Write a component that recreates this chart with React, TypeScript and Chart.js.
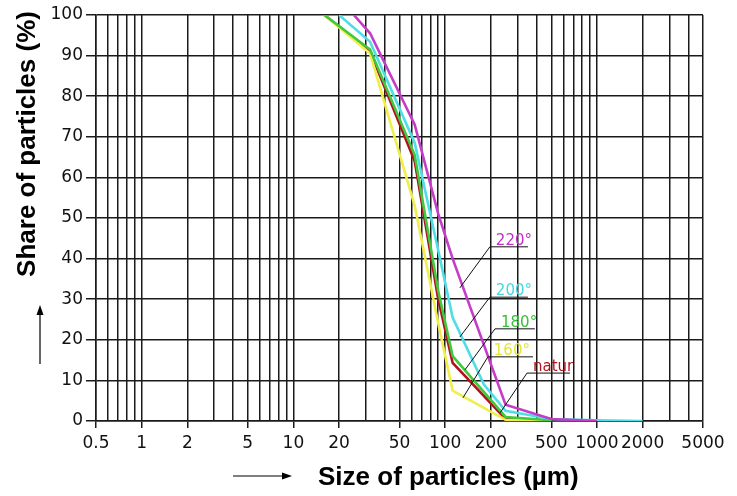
import React, { useEffect, useRef } from 'react';
import { Chart, registerables } from 'chart.js';
Chart.register(...registerables);

// particle sizes (µm) at which values are read
const sizes = [16, 20, 25, 32, 63, 90, 112, 180, 250, 500, 1000, 2000];
// share of particles (%) per series (null = no point)
const natur = [100, null, null, 91, 64, 30, 14.3, null, 0.5, 0, null, null];
const deg160 = [100, null, null, 90.5, 53, 24, 7.5, null, 0.3, 0, null, null];
const deg180 = [100, null, null, 91.5, 65.5, 32, 16, null, 1, 0.2, null, null];
const deg200 = [null, 100, null, 93.4, 68.5, 42, 25.5, 9, 2.5, 0.5, 0.2, 0];
const deg220 = [null, null, 100, 95.5, 73, 51, 40, null, 4, 0.5, 0, null];

const seriesNames = ['220°', '200°', '180°', '160°', 'natur'];
const seriesValues = [deg220, deg200, deg180, deg160, natur];
const seriesColors = ['#c43cc8', '#4fdde6', '#3ec93e', '#f0ee4a', '#b3121b'];
const labelColors = ['#c030c4', '#45d6e0', '#36c236', '#e6e43a', '#b0141c'];

// x-axis labelled ticks and grid decades
const xTickLabels = [0.5, 1, 2, 5, 10, 20, 50, 100, 200, 500, 1000, 2000, 5000];
const xDecades = [0.1, 1, 10, 100, 1000];
const xMultiples = [1, 2, 3, 4, 5, 6, 7, 8, 9];
const xMin = 0.5;
const xMax = 5000;
const yTicksMax = 100;
const yStep = 10;

// annotation labels: underline start/end (size), level (%), leader anchor on curve
const labelLineStart = [197, 197, 213, 191, 346];
const labelLineEnd = [351, 351, 390, 379, 665];
const labelLevel = [42.9, 30.5, 22.7, 15.8, 11.8];
const leaderSize = [125, 125, 135, 131, 230];
const leaderPct = [32.8, 20.7, 12.6, 5.7, 2];

const xTitle = 'Size of particles (µm)';
const yTitle = 'Share of particles (%)';

const gridValues: number[] = [];
xDecades.forEach((d) =>
  xMultiples.forEach((m) => {
    const v = Number((m * d).toPrecision(6));
    if (v >= xMin && v <= xMax) gridValues.push(v);
  })
);
const isLabelled = (v: number) => xTickLabels.some((t) => Math.abs(t - v) / t < 1e-6);

const overlay = {
  id: 'overlay',
  afterDatasetsDraw(chart: any) {
    const { ctx, scales } = chart;
    const xs = scales.x;
    const ys = scales.y;
    ctx.save();
    seriesNames.forEach((name, i) => {
      const x0 = xs.getPixelForValue(labelLineStart[i]);
      const x1 = xs.getPixelForValue(labelLineEnd[i]);
      const yl = ys.getPixelForValue(labelLevel[i]);
      const xa = xs.getPixelForValue(leaderSize[i]);
      const ya = ys.getPixelForValue(leaderPct[i]);
      ctx.strokeStyle = '#111';
      ctx.lineWidth = 1;
      ctx.beginPath();
      ctx.moveTo(x1, yl);
      ctx.lineTo(x0, yl);
      ctx.lineTo(xa, ya);
      ctx.stroke();
      ctx.fillStyle = labelColors[i];
      ctx.font = '15px "DejaVu Sans"';
      ctx.textAlign = 'left';
      ctx.textBaseline = 'alphabetic';
      ctx.fillText(name, x0 + 6, yl - 2);
    });
    ctx.restore();
  },
  afterDraw(chart: any) {
    const { ctx, chartArea } = chart;
    ctx.save();
    ctx.fillStyle = '#000';
    ctx.strokeStyle = '#000';
    ctx.font = 'bold 26px "Liberation Sans", Arial, sans-serif';
    ctx.textAlign = 'left';
    ctx.textBaseline = 'alphabetic';
    const xtx = 318;
    const xty = chartArea.bottom + 64;
    ctx.fillText(xTitle, xtx, xty);
    ctx.lineWidth = 1.2;
    ctx.beginPath();
    ctx.moveTo(233, xty - 9);
    ctx.lineTo(284, xty - 9);
    ctx.stroke();
    ctx.beginPath();
    ctx.moveTo(292, xty - 9);
    ctx.lineTo(282, xty - 12.5);
    ctx.lineTo(282, xty - 5.5);
    ctx.closePath();
    ctx.fill();
    ctx.save();
    ctx.translate(35, 144);
    ctx.rotate(-Math.PI / 2);
    ctx.textAlign = 'center';
    ctx.fillText(yTitle, 0, 0);
    ctx.restore();
    ctx.beginPath();
    ctx.moveTo(40, 364);
    ctx.lineTo(40, 313);
    ctx.stroke();
    ctx.beginPath();
    ctx.moveTo(40, 305);
    ctx.lineTo(36.5, 315);
    ctx.lineTo(43.5, 315);
    ctx.closePath();
    ctx.fill();
    ctx.restore();
  },
};

export default function App() {
  const ref = useRef<HTMLCanvasElement | null>(null);
  useEffect(() => {
    if (!ref.current) return;
    const datasets = seriesNames.map((name, i) => ({
      label: name,
      data: sizes
        .map((s, j) => (seriesValues[i][j] == null ? null : { x: s, y: seriesValues[i][j] }))
        .filter((p) => p !== null),
      borderColor: seriesColors[i],
      backgroundColor: seriesColors[i],
      borderWidth: 2.6,
      pointRadius: 0,
      tension: 0,
      fill: false,
    }));
    const chart = new Chart(ref.current, {
      type: 'line',
      data: { datasets: datasets as any },
      plugins: [overlay],
      options: {
        animation: false,
        responsive: false,
        layout: { padding: { top: 15, right: 34, left: 0, bottom: 0 } },
        plugins: { legend: { display: false }, tooltip: { enabled: false } },
        scales: {
          x: {
            type: 'logarithmic',
            min: xMin,
            max: xMax,
            afterBuildTicks: (s: any) => {
              s.ticks = gridValues.map((v) => ({ value: v }));
            },
            afterFit: (s: any) => {
              s.height = 75;
            },
            ticks: {
              autoSkip: false,
              maxRotation: 0,
              minRotation: 0,
              padding: 5,
              color: '#111',
              font: { family: 'DejaVu Sans', size: 17 },
              callback: (v: any) => {
                const n = Number(v);
                return isLabelled(n) ? String(n) : '';
              },
            },
            grid: {
              color: '#1a1a1a',
              lineWidth: 1.5,
              tickLength: 7,
              tickColor: (c: any) => (c.tick && isLabelled(c.tick.value) ? '#1a1a1a' : 'rgba(0,0,0,0)'),
            },
            border: { color: '#1a1a1a', width: 1.5 },
          },
          y: {
            type: 'linear',
            min: 0,
            max: yTicksMax,
            afterFit: (s: any) => {
              s.width = 96;
            },
            ticks: {
              stepSize: yStep,
              padding: 3,
              color: '#111',
              font: { family: 'DejaVu Sans', size: 17 },
            },
            grid: { color: '#1a1a1a', lineWidth: 1.5, tickLength: 10, tickColor: '#1a1a1a' },
            border: { color: '#1a1a1a', width: 1.5 },
          },
        },
      },
    });
    return () => chart.destroy();
  }, []);
  return (
    <div style={{ position: 'absolute', left: 0, top: 0, width: 737, height: 496, background: '#fff' }}>
      <canvas ref={ref} width={737} height={496} style={{ display: 'block' }} />
    </div>
  );
}
